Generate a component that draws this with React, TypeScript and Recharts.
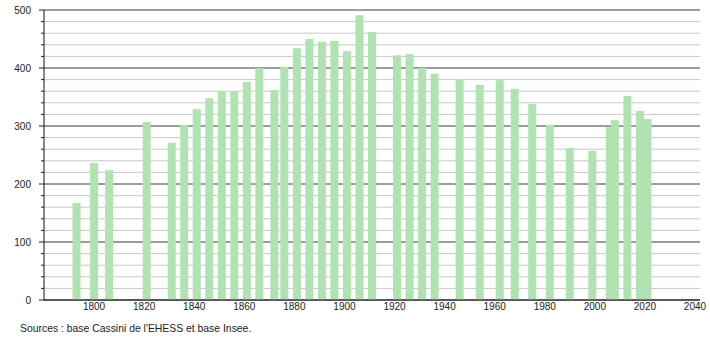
import React from "react";
import { BarChart, Bar, XAxis, YAxis, CartesianGrid } from "recharts";

const years = [1793, 1800, 1806, 1821, 1831, 1836, 1841, 1846, 1851, 1856, 1861, 1866, 1872, 1876, 1881, 1886, 1891, 1896, 1901, 1906, 1911, 1921, 1926, 1931, 1936, 1946, 1954, 1962, 1968, 1975, 1982, 1990, 1999, 2006, 2008, 2013, 2018, 2021];
const population = [167, 236, 224, 307, 271, 302, 329, 348, 360, 360, 376, 400, 362, 402, 434, 450, 445, 447, 429, 491, 462, 422, 424, 400, 390, 381, 371, 379, 364, 338, 302, 262, 257, 298, 310, 352, 326, 312];
const xTicks = [1800, 1820, 1840, 1860, 1880, 1900, 1920, 1940, 1960, 1980, 2000, 2020, 2040];
const yTicks = [0, 20, 40, 60, 80, 100, 120, 140, 160, 180, 200, 220, 240, 260, 280, 300, 320, 340, 360, 380, 400, 420, 440, 460, 480, 500];
const yLabels = [0, 100, 200, 300, 400, 500];
const sourceText = "Sources : base Cassini de l'EHESS et base Insee.";

const data = years.map((y, i) => ({ year: y, pop: population[i] }));

const FONT = "'Liberation Sans', Arial, sans-serif";
const BAR_WIDTH = 8;

const YTick = (props: any) => {
  const { x, y, payload } = props;
  const major = yLabels.includes(payload.value);
  return (
    <g>
      <line x1={x - (major ? 5 : 3)} x2={x} y1={y} y2={y} stroke="#222" strokeWidth={1} />
      {major && (
        <text x={x - 13} y={y} dy="0.355em" textAnchor="end" fontSize={10} fontFamily={FONT} fill="#222">
          {payload.value}
        </text>
      )}
    </g>
  );
};

const GridLine = (props: any) => {
  const { x1, x2, y1, y2, index } = props;
  const major = index % 5 === 0;
  return (
    <line
      key={`h-${index}`}
      x1={x1}
      x2={x2}
      y1={y1}
      y2={y2}
      stroke={major ? "#3a3a3a" : "#c8c8c8"}
      strokeWidth={1}
    />
  );
};

const BarShape = (props: any) => {
  const { x, y, width, height, fill } = props;
  const cx = x + width / 2;
  return <rect x={cx - BAR_WIDTH / 2} y={y} width={BAR_WIDTH} height={height} fill={fill} />;
};

export default function App() {
  return (
    <div style={{ position: "absolute", left: 0, top: 0, width: 710, height: 340, background: "#fff" }}>
      <BarChart
        width={710}
        height={340}
        data={data}
        margin={{ top: 10, right: 10, bottom: 10, left: 0 }}
      >
        <CartesianGrid vertical={false} horizontal={GridLine} />
        <XAxis
          dataKey="year"
          type="number"
          domain={[1780, 2042]}
          ticks={xTicks}
          allowDataOverflow
          height={30}
          tickLine={false}
          tickSize={0}
          tickMargin={3}
          axisLine={{ stroke: "#111", strokeWidth: 1 }}
          tick={{ fontSize: 10, fontFamily: FONT, fill: "#222" }}
          interval={0}
        />
        <YAxis
          type="number"
          domain={[0, 500]}
          ticks={yTicks}
          width={44}
          tickLine={false}
          tickSize={0}
          tickMargin={0}
          interval={0}
          axisLine={{ stroke: "#111", strokeWidth: 1 }}
          tick={<YTick />}
        />
        <Bar dataKey="pop" fill="#b1e2b1" shape={<BarShape />} isAnimationActive={false} />
      </BarChart>
      <div
        style={{
          position: "absolute",
          left: 20,
          top: 323,
          fontFamily: FONT,
          fontSize: 10.4,
          color: "#222",
          whiteSpace: "nowrap",
        }}
      >
        {sourceText}
      </div>
    </div>
  );
}
